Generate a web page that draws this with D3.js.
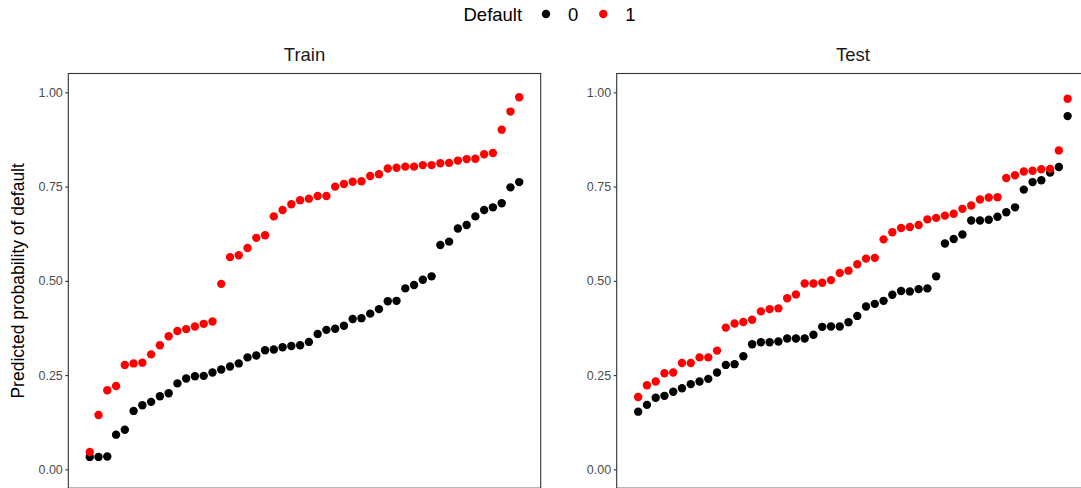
<!DOCTYPE html>
<html>
<head>
<meta charset="utf-8">
<script src="https://cdn.jsdelivr.net/npm/d3@7"></script>
<style>
  body { margin: 0; background: #fff; }
  svg { display: block; font-family: "Liberation Sans", Arial, sans-serif; }
</style>
</head>
<body>
<svg id="chart" width="1081" height="488"></svg>
<script>
// data, sorted within each group
var trainDefault0 = [0.033, 0.033, 0.034, 0.092, 0.105, 0.155, 0.170, 0.179, 0.194, 0.202,
    0.228, 0.241, 0.247, 0.248, 0.257, 0.265, 0.273, 0.281, 0.297, 0.302,
    0.316, 0.318, 0.324, 0.327, 0.329, 0.338, 0.359, 0.370, 0.373, 0.381,
    0.399, 0.401, 0.413, 0.425, 0.446, 0.447, 0.480, 0.489, 0.503, 0.512,
    0.595, 0.604, 0.639, 0.648, 0.671, 0.688, 0.695, 0.706, 0.748, 0.762];
var trainDefault1 = [0.046, 0.144, 0.210, 0.221, 0.277, 0.281, 0.283, 0.305, 0.329, 0.353,
    0.367, 0.372, 0.379, 0.386, 0.392, 0.492, 0.563, 0.568, 0.587, 0.614,
    0.621, 0.671, 0.688, 0.703, 0.714, 0.718, 0.725, 0.725, 0.750, 0.757,
    0.763, 0.764, 0.778, 0.783, 0.798, 0.800, 0.803, 0.803, 0.807, 0.807,
    0.812, 0.813, 0.819, 0.823, 0.824, 0.836, 0.839, 0.901, 0.949, 0.987];
var testDefault0 = [0.153, 0.171, 0.190, 0.195, 0.206, 0.215, 0.226, 0.233, 0.240, 0.257,
    0.277, 0.279, 0.300, 0.332, 0.337, 0.337, 0.339, 0.347, 0.347, 0.347,
    0.357, 0.378, 0.379, 0.379, 0.390, 0.407, 0.432, 0.439, 0.447, 0.463,
    0.473, 0.472, 0.478, 0.480, 0.512, 0.599, 0.611, 0.623, 0.660, 0.660,
    0.662, 0.670, 0.682, 0.695, 0.742, 0.762, 0.767, 0.787, 0.802, 0.937];
var testDefault1 = [0.192, 0.223, 0.233, 0.255, 0.257, 0.282, 0.282, 0.297, 0.297, 0.315,
    0.376, 0.387, 0.391, 0.397, 0.419, 0.425, 0.427, 0.454, 0.464, 0.493,
    0.493, 0.495, 0.502, 0.521, 0.527, 0.544, 0.559, 0.561, 0.610, 0.629,
    0.640, 0.643, 0.648, 0.663, 0.667, 0.673, 0.678, 0.691, 0.700, 0.716,
    0.721, 0.722, 0.773, 0.780, 0.790, 0.792, 0.796, 0.797, 0.846, 0.983];

var panelNames = ["Train", "Test"];
var groupNames = ["0", "1"];
var groupColors = ["#000000", "#FF0000"];
var yTicks = [0, 0.25, 0.5, 0.75, 1];

var panels = [
    { name: panelNames[0], groups: [trainDefault0, trainDefault1], left: 68.3 },
    { name: panelNames[1], groups: [testDefault0, testDefault1], left: 616.7 }
];

var svg = d3.select("#chart");
var panelW = 472.4, panelTop = 73.5, panelH = 414.7;

var x = d3.scaleLinear().domain([-1.45, 52.45]).range([0, panelW]);
var y = d3.scaleLinear().domain([-0.05, 1.05]).range([panelH, 0]);

panels.forEach(function(p) {
    var g = svg.append("g").attr("transform", "translate(" + p.left + "," + panelTop + ")");

    // strip title
    svg.append("text")
        .attr("x", p.left + panelW / 2)
        .attr("y", 61)
        .attr("text-anchor", "middle")
        .attr("font-size", 18.5)
        .attr("fill", "#1a1a1a")
        .text(p.name);

    // y axis
    var yAxis = d3.axisLeft(y).tickValues(yTicks).tickSize(3).tickPadding(2.5)
        .tickFormat(d3.format(".2f"));
    var ax = g.append("g").call(yAxis);
    ax.select(".domain").remove();
    ax.selectAll("line").attr("stroke", "#333333").attr("stroke-width", 1.1);
    ax.selectAll("text").attr("fill", "#4d4d4d").attr("font-size", 12.5)
        .attr("font-family", "Liberation Sans, Arial, sans-serif");

    // points
    p.groups.forEach(function(vals, gi) {
        g.selectAll(".pt" + gi)
            .data(vals)
            .enter()
            .append("circle")
            .attr("cx", (d, i) => x(i + 1))
            .attr("cy", d => y(d))
            .attr("r", 4.2)
            .attr("fill", groupColors[gi]);
    });

    // border
    g.append("rect")
        .attr("width", panelW)
        .attr("height", panelH)
        .attr("fill", "none")
        .attr("stroke", "#333333")
        .attr("stroke-width", 1.1);
});

// y axis title
svg.append("text")
    .attr("transform", "translate(24," + (panelTop + panelH / 2) + ") rotate(-90)")
    .attr("text-anchor", "middle")
    .attr("font-size", 17.5)
    .attr("fill", "#000")
    .text("Predicted probability of default");

// legend
var legend = svg.append("g");
legend.append("text")
    .attr("x", 463.5).attr("y", 20.5)
    .attr("font-size", 18.5)
    .text("Default");
var legX = [546, 603.3];
groupNames.forEach(function(name, i) {
    legend.append("circle").attr("cx", legX[i]).attr("cy", 14).attr("r", 4.2).attr("fill", groupColors[i]);
    legend.append("text").attr("x", legX[i] + 22).attr("y", 20.5)
        .attr("font-size", 18.5).text(name);
});
</script>
</body>
</html>
